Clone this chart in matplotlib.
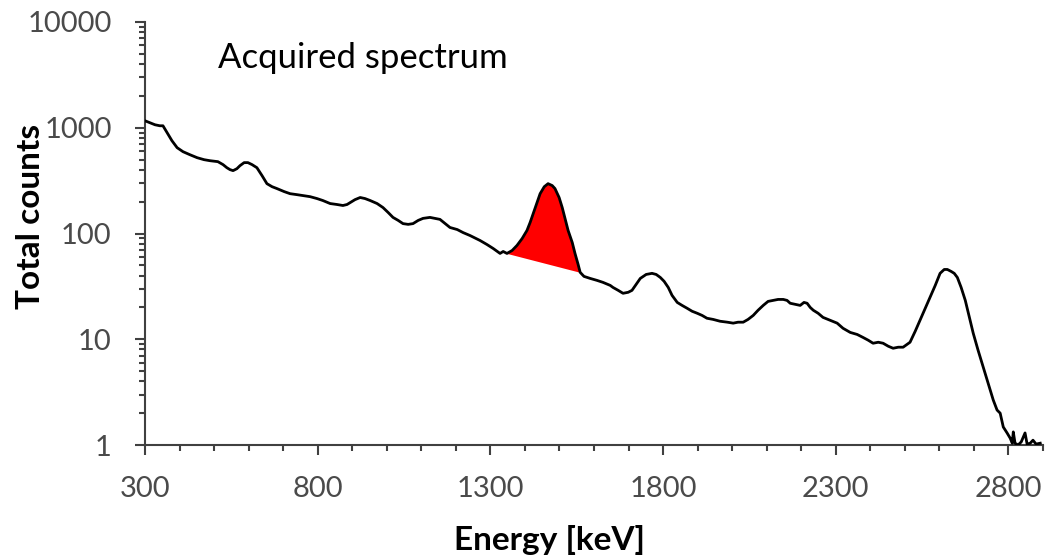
import numpy as np
import matplotlib
matplotlib.use("Agg")
import matplotlib.pyplot as plt
from matplotlib.ticker import LogLocator, NullFormatter, FixedLocator, MultipleLocator

# ---- data ----
energy = [300, 314, 329, 343, 352, 364, 378, 393, 410, 430, 451, 471, 488, 511, 526, 537, 546, 555,
          566, 575, 587, 598, 610, 624, 639, 653, 668, 682, 703, 720, 740, 758, 778, 798, 815, 836,
          856, 873, 885, 894, 908, 923, 937, 952, 972, 989, 1004, 1018, 1033, 1047, 1062, 1076, 1091,
          1105, 1125, 1154, 1183, 1204, 1221, 1241, 1270, 1290, 1308, 1328, 1337, 1348, 1363, 1377,
          1392, 1406, 1415, 1424, 1435, 1444, 1456, 1467, 1479, 1487, 1499, 1508, 1516, 1525, 1537,
          1545, 1554, 1560, 1571, 1589, 1609, 1626, 1647, 1655, 1670, 1684, 1699, 1710, 1722, 1734,
          1751, 1768, 1780, 1792, 1803, 1815, 1826, 1841, 1855, 1870, 1884, 1899, 1913, 1927, 1945,
          1965, 1986, 2003, 2017, 2032, 2046, 2061, 2075, 2090, 2104, 2119, 2133, 2148, 2159, 2168,
          2182, 2197, 2208, 2217, 2226, 2235, 2249, 2263, 2284, 2304, 2321, 2342, 2362, 2379, 2394,
          2408, 2423, 2437, 2452, 2466, 2481, 2495, 2507, 2515, 2530, 2544, 2559, 2573, 2588, 2602,
          2614, 2623, 2634, 2643, 2652, 2663, 2675, 2686, 2698, 2712, 2727, 2741, 2756, 2767, 2776,
          2785, 2796, 2805, 2811, 2814, 2819, 2828, 2837, 2848, 2854, 2863, 2871, 2880, 2892]
counts = [1164, 1115, 1067, 1044, 1044, 897, 754, 648, 594, 556, 521, 499, 488, 478, 448, 419, 402, 393,
          410, 438, 468, 468, 448, 419, 352, 296, 277, 266, 249, 238, 233, 228, 223, 214, 205, 192,
          188, 184, 188, 196, 209, 219, 214, 205, 192, 176, 158, 142, 133, 124, 122, 124, 133,
          139, 142, 136, 114, 109, 102, 95.7, 85.9, 78.7, 72.2, 64.8, 67.6, 64.8, 69.1, 77.1,
          89.7, 107, 127, 154, 196, 238, 277, 296, 284, 266, 219, 176, 139, 107, 82.2,
          64.8, 51.0, 42.9, 39.3, 37.6, 36.0, 34.5, 32.3, 30.9, 29.0, 27.2, 27.8, 29.0, 33.0, 37.6,
          41.0, 42.0, 41.0, 38.4, 35.3, 30.9, 26.0, 22.3, 20.9, 19.6, 18.4, 17.6, 16.8, 15.8, 15.4,
          14.8, 14.5, 14.2, 14.5, 14.5, 15.4, 16.8, 18.8, 20.9, 22.8, 23.3, 23.8, 23.8, 23.3, 21.9,
          21.4, 20.9, 22.3, 21.9, 20.0, 18.8, 17.6, 16.1, 15.1, 14.2, 12.7, 11.6, 11.1, 10.4, 9.79,
          9.17, 9.37, 9.17, 8.59, 8.22, 8.41, 8.41, 8.97, 9.37, 11.9, 15.1, 19.6, 24.9, 32.3, 42.0,
          45.7, 45.7, 43.8, 42.0, 38.4, 30.9, 23.3, 16.5, 11.4, 7.88, 5.44, 3.85, 2.66, 2.14, 2.00,
          1.48, 1.30, 1.16, 1.04, 1.33, 1.04, 1.00, 1.07, 1.30, 1.02, 1.04, 1.11, 1.02, 1.04]
roi_start, roi_end = 1348, 1560          # region of interest (red peak)
x_ticks = [300, 800, 1300, 1800, 2300, 2800]
y_ticks = [1, 10, 100, 1000, 10000]
y_ticklabels = ["1", "10", "100", "1000", "10000"]

energy = np.array(energy, dtype=float)
counts = np.array(counts, dtype=float)

plt.rcParams['font.family'] = ['Lato', 'DejaVu Sans']

fig = plt.figure(figsize=(10.45, 5.58), dpi=100)
ax = fig.add_axes([145/1045, 1-445/558, (1043-145)/1045, (445-22)/558])

# red filled peak above straight (log-linear) baseline
m = (energy >= roi_start) & (energy <= roi_end)
xe = energy[m]
lc = np.log10(counts[m])
base = np.interp(xe, [xe[0], xe[-1]], [lc[0], lc[-1]])
ax.fill_between(xe, 10**base, 10**lc, color='#ff0000', linewidth=0, zorder=2)

ax.plot(energy, counts, color='black', lw=2.0, zorder=3)

ax.set_yscale('log')
ax.set_xlim(300, 2900)
ax.set_ylim(1, 10000)

ax.xaxis.set_major_locator(FixedLocator(x_ticks))
ax.xaxis.set_minor_locator(MultipleLocator(100))
ax.set_xticklabels([str(t) for t in x_ticks])
ax.yaxis.set_major_locator(FixedLocator(y_ticks))
ax.set_yticklabels(y_ticklabels)
ax.yaxis.set_minor_locator(LogLocator(base=10, subs=np.arange(2, 10)))
ax.yaxis.set_minor_formatter(NullFormatter())

for s in ['top', 'right']:
    ax.spines[s].set_visible(False)
for s in ['left', 'bottom']:
    ax.spines[s].set_color('#404040')
    ax.spines[s].set_linewidth(1.5)

ax.tick_params(axis='both', which='major', direction='out', length=7, width=1.5,
               color='#404040', labelcolor='#4a4a4a', labelsize=21)
ax.tick_params(axis='both', which='minor', direction='out', length=4.5, width=1.5,
               color='#404040')
ax.tick_params(axis='y', which='major', pad=17)
ax.tick_params(axis='x', which='major', pad=15)

ax.set_ylabel('Total counts', fontsize=24, fontweight='bold', color='black')
ax.yaxis.set_label_coords(-0.128, 0.54)
ax.set_xlabel('Energy [keV]', fontsize=24, fontweight='bold', color='black')
ax.xaxis.set_label_coords(0.451, -0.225)
ax.xaxis.label.set_va('center')
ax.yaxis.label.set_va('center')

ax.text((218-145)/898, (445-58)/423, 'Acquired spectrum', fontsize=25, color='black',
        ha='left', va='center', transform=ax.transAxes)

fig.savefig('out.png', dpi=100)
